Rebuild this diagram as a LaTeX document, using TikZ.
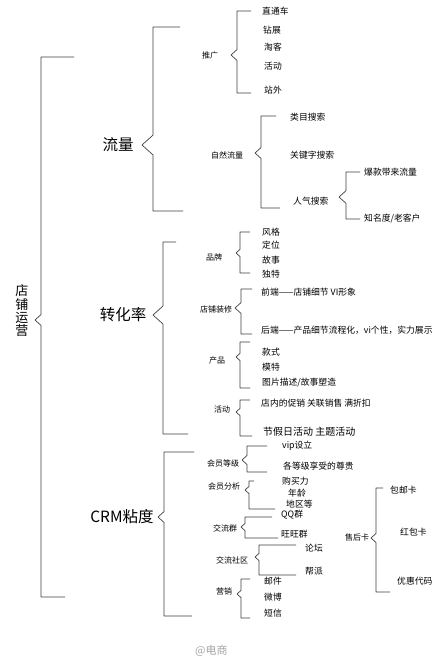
\documentclass[tikz,border=0pt]{standalone}
\usepackage{fontspec}
\usepackage{tikz}
\newfontfamily\cjk{Noto Sans CJK SC}
% bracket: x, top, bottom, tip y, tip x, top end, bottom end
\newcommand{\bracket}[7]{%
  \draw[brk] (#6,#2) -- (#1,#2) -- (#1,{#4-0.9*(#1-#5)}) -- (#5,#4)
    -- (#1,{#4+0.9*(#1-#5)}) -- (#1,#3) -- (#7,#3);}

\begin{document}
\begin{tikzpicture}[
  x=1pt, y=-1pt,
  brk/.style={draw=black!75, line width=0.7pt, line join=round},
  itm/.style={anchor=west, inner sep=0pt, font=\cjk\fontsize{8.8}{9}\selectfont},
  grp/.style={inner sep=0pt, font=\cjk\fontsize{8}{9}\selectfont},
  big/.style={inner sep=0pt, font=\cjk\fontsize{15.5}{16}\selectfont},
]
\useasboundingbox[fill=white] (0,0) rectangle (440,661);

% Root
\node[inner sep=0pt, align=center, font=\cjk\fontsize{13}{13.3}\selectfont]
  (root) at (22,311) {店\\铺\\运\\营};
\bracket{41}{57}{597}{320}{35}{74}{65}

% Main branches
\node[big] (liuliang) at (118,145) {流量};
\node[big] (zhuanhua) at (123,315) {转化率};
\node[big] (crm) at (122,517) {CRM粘度};
\bracket{153}{27}{211}{145}{142}{180}{183}
\bracket{163}{242}{434}{315}{153}{176}{188}
\bracket{164}{452}{616}{517}{158}{194}{192}

% Traffic
\node[grp] (tuiguang) at (210,55) {推广};
\bracket{237}{11}{93}{55}{231}{251}{251}
\node[itm] (ztc) at (262,11) {直通车};
\node[itm] (zz) at (263,30) {钻展};
\node[itm] (tk) at (264,47) {淘客};
\node[itm] (hd) at (264,66) {活动};
\node[itm] (zw) at (264,90) {站外};

\node[grp] (ziran) at (227,155) {自然流量};
\bracket{261}{116}{208}{153}{255}{276}{280}
\node[itm] (lmss) at (290,117) {类目搜索};
\node[itm] (gjz) at (290,155) {关键字搜索};
\node[itm] (rqss) at (293,201) {人气搜索};
\bracket{346}{172}{219}{197}{339}{360}{360}
\node[itm] (bk) at (364,172) {爆款带来流量};
\node[itm] (zmd) at (364,219) {知名度/老客户};

% Conversion
\node[grp] (pinpai) at (214,257) {品牌};
\bracket{240}{232}{273}{253}{236}{250}{250}
\node[itm] (fg) at (262,232) {风格};
\node[itm] (dw) at (262,245) {定位};
\node[itm] (gs) at (262,260) {故事};
\node[itm] (dt) at (262,274) {独特};

\node[grp] (zhuangxiu) at (216,309) {店铺装修};
\bracket{241}{289}{334}{308}{235}{252}{252}
\node[itm] (qd) at (261,292) {前端——店铺细节 VI形象};
\node[itm] (hd2) at (261,330) {后端——产品细节流程化，vi个性，实力展示};

\node[grp] (chanpin) at (217,360) {产品};
\bracket{240}{342}{388}{357}{236}{250}{250}
\node[itm] (ks) at (262,352) {款式};
\node[itm] (mt) at (262,367) {模特};
\node[itm] (tp) at (262,383) {图片描述/故事塑造};

\node[grp] (huodong) at (222,409) {活动};
\bracket{240}{400}{436}{412}{236}{250}{252}
\node[itm] (dn) at (261,403) {店内的促销 关联销售 满折扣};
\node[itm, font=\cjk\fontsize{10}{11}\selectfont] (jjr) at (263,432) {节假日活动 主题活动};

% CRM
\node[grp] (dengji) at (223,463) {会员等级};
\bracket{247}{446}{472}{460}{242}{267}{267}
\node[itm] (vip) at (282,446) {vip设立};
\node[itm] (zg) at (283,466) {各等级享受的尊贵};

\node[grp] (fenxi) at (224,486) {会员分析};
\bracket{249}{481}{509}{490}{245}{254}{275}
\node[itm] (gml) at (282,481) {购买力};
\node[itm] (nl) at (288,493) {年龄};
\node[itm] (dq) at (286,504) {地区等};

\node[grp] (qun) at (225,528) {交流群};
\bracket{245}{517}{538}{527}{241}{272}{278}
\node[itm] (qq) at (281,515) {QQ群};
\node[itm] (ww) at (281,534) {旺旺群};

\node[grp] (shequ) at (232,560) {交流社区};
\bracket{259}{545}{575}{557}{255}{296}{296}
\node[itm] (lt) at (305,548) {论坛};
\node[itm] (bp) at (305,571) {帮派};

\node[grp] (yingxiao) at (224,591) {营销};
\bracket{241}{579}{618}{594}{237}{250}{250}
\node[itm] (yj) at (264,581) {邮件};
\node[itm] (wb) at (264,597) {微博};
\node[itm] (dx) at (264,613) {短信};

\node[grp] (shouhou) at (357,537) {售后卡};
\bracket{376}{488}{592}{538}{371}{383}{390}
\node[itm] (by) at (390,490) {包邮卡};
\node[itm] (hb) at (400,532) {红包卡};
\node[itm] (yh) at (397,581) {优惠代码};

% Watermark
\node[anchor=west, inner sep=0pt, text=black!35, font=\cjk\fontsize{11}{12}\selectfont]
  (wm) at (195,651) {@电商};
\end{tikzpicture}
\end{document}
